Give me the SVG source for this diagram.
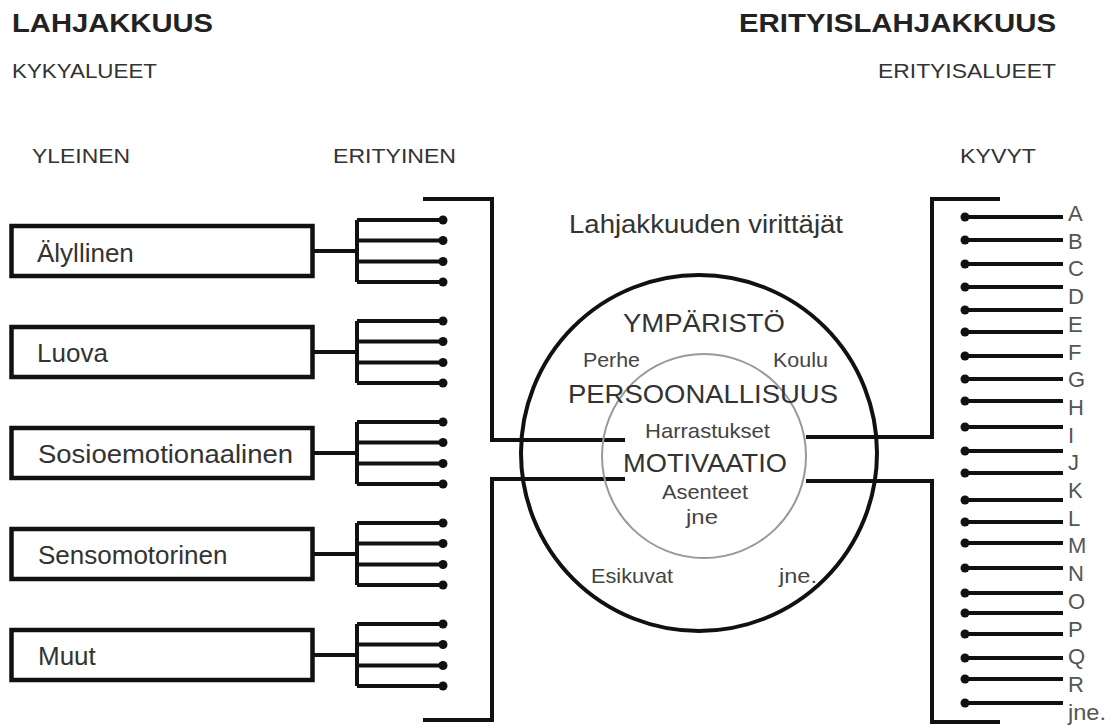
<svg xmlns="http://www.w3.org/2000/svg" width="1110" height="725" viewBox="0 0 1110 725">
<style>
text{font-family:"Liberation Sans",Arial,sans-serif;}
.h1{font-size:26px;font-weight:bold;fill:#222;}
.h2{font-size:21px;fill:#333;}
.h3{font-size:21px;fill:#333;}
.box{fill:#fff;stroke:#111;stroke-width:4.5;}
.lbl{font-size:26px;fill:#333;}
.ln{stroke:#111;stroke-width:4;fill:none;}
.dot{fill:#111;}
.big{font-size:26px;fill:#333;}
.sm{font-size:21px;fill:#444;}
.let{font-size:22px;fill:#555;}
</style>
<rect width="1110" height="725" fill="#fff"/>
<g id="headers">
<text class="h1" x="12" y="32" textLength="201" lengthAdjust="spacingAndGlyphs">LAHJAKKUUS</text>
<text class="h1" x="1056" y="32" text-anchor="end" textLength="317" lengthAdjust="spacingAndGlyphs">ERITYISLAHJAKKUUS</text>
<text class="h2" x="12" y="78" textLength="145" lengthAdjust="spacingAndGlyphs">KYKYALUEET</text>
<text class="h2" x="1056" y="78" text-anchor="end" textLength="178" lengthAdjust="spacingAndGlyphs">ERITYISALUEET</text>
<text class="h3" x="32" y="163" textLength="98" lengthAdjust="spacingAndGlyphs">YLEINEN</text>
<text class="h3" x="333" y="163" textLength="123" lengthAdjust="spacingAndGlyphs">ERITYINEN</text>
<text class="h3" x="960" y="163" textLength="76" lengthAdjust="spacingAndGlyphs">KYVYT</text>
</g>
<g id="node-alyllinen"><rect class="box" x="11.5" y="226" width="301" height="50"/><text class="lbl" x="37" y="262">Älyllinen</text></g>
<g id="node-luova"><rect class="box" x="11.5" y="327" width="301" height="50"/><text class="lbl" x="37" y="362">Luova</text></g>
<g id="node-sosio"><rect class="box" x="11.5" y="428" width="301" height="50"/><text class="lbl" x="38" y="463" textLength="255" lengthAdjust="spacingAndGlyphs">Sosioemotionaalinen</text></g>
<g id="node-senso"><rect class="box" x="11.5" y="529" width="301" height="50"/><text class="lbl" x="38" y="564">Sensomotorinen</text></g>
<g id="node-muut"><rect class="box" x="11.5" y="630" width="301" height="50"/><text class="lbl" x="38" y="665">Muut</text></g>
<g id="connectors">
<path class="ln" d="M313 251H357M357 220V282M357 220H443M357 240.5H443M357 261.5H443M357 282H443"/>
<path class="ln" d="M313 352H357M357 321V383M357 321H443M357 341.5H443M357 362.5H443M357 383H443"/>
<path class="ln" d="M313 453H357M357 422V484M357 422H443M357 442.5H443M357 463.5H443M357 484H443"/>
<path class="ln" d="M313 554H357M357 523V585M357 523H443M357 543.5H443M357 564.5H443M357 585H443"/>
<path class="ln" d="M313 655H357M357 624V686M357 624H443M357 644.5H443M357 665.5H443M357 686H443"/>
<g class="dot">
<circle cx="443" cy="220" r="4.5"/><circle cx="443" cy="240.5" r="4.5"/><circle cx="443" cy="261.5" r="4.5"/><circle cx="443" cy="282" r="4.5"/>
<circle cx="443" cy="321" r="4.5"/><circle cx="443" cy="341.5" r="4.5"/><circle cx="443" cy="362.5" r="4.5"/><circle cx="443" cy="383" r="4.5"/>
<circle cx="443" cy="422" r="4.5"/><circle cx="443" cy="442.5" r="4.5"/><circle cx="443" cy="463.5" r="4.5"/><circle cx="443" cy="484" r="4.5"/>
<circle cx="443" cy="523" r="4.5"/><circle cx="443" cy="543.5" r="4.5"/><circle cx="443" cy="564.5" r="4.5"/><circle cx="443" cy="585" r="4.5"/>
<circle cx="443" cy="624" r="4.5"/><circle cx="443" cy="644.5" r="4.5"/><circle cx="443" cy="665.5" r="4.5"/><circle cx="443" cy="686" r="4.5"/>
</g>
<path class="ln" d="M423 199H492V440H625M625 479H492V720H423"/>
<path class="ln" d="M1000 199H932V437H806M806 481H932V722H1000"/>
<path class="ln" stroke-width="4.5" d="M965 217H1063M965 240H1063M965 264H1063M965 287H1063M965 310H1063M965 332H1063M965 356H1063M965 379H1063M965 401H1063M965 427H1063M965 451H1063M965 473H1063M965 500H1063M965 522H1063M965 543H1063M965 568H1063M965 593H1063M965 613H1063M965 634H1063M965 658H1063M965 679H1063M965 703H1063"/>
<g class="dot">
<circle cx="965" cy="217" r="4.5"/><circle cx="965" cy="240" r="4.5"/><circle cx="965" cy="264" r="4.5"/><circle cx="965" cy="287" r="4.5"/><circle cx="965" cy="310" r="4.5"/><circle cx="965" cy="332" r="4.5"/><circle cx="965" cy="356" r="4.5"/><circle cx="965" cy="379" r="4.5"/><circle cx="965" cy="401" r="4.5"/><circle cx="965" cy="427" r="4.5"/><circle cx="965" cy="451" r="4.5"/><circle cx="965" cy="473" r="4.5"/><circle cx="965" cy="500" r="4.5"/><circle cx="965" cy="522" r="4.5"/><circle cx="965" cy="543" r="4.5"/><circle cx="965" cy="568" r="4.5"/><circle cx="965" cy="593" r="4.5"/><circle cx="965" cy="613" r="4.5"/><circle cx="965" cy="634" r="4.5"/><circle cx="965" cy="658" r="4.5"/><circle cx="965" cy="679" r="4.5"/><circle cx="965" cy="703" r="4.5"/>
</g>
</g>
<g id="node-virittajat">
<circle cx="699" cy="453" r="178" fill="none" stroke="#111" stroke-width="4"/>
<circle cx="704" cy="456" r="102" fill="none" stroke="#999" stroke-width="2"/>
<text class="big" x="569" y="233" textLength="274" lengthAdjust="spacingAndGlyphs">Lahjakkuuden virittäjät</text>
<text class="big" x="623" y="332" textLength="162" lengthAdjust="spacingAndGlyphs">YMPÄRISTÖ</text>
<text class="sm" x="583" y="367" textLength="57" lengthAdjust="spacingAndGlyphs">Perhe</text>
<text class="sm" x="773" y="367" textLength="55" lengthAdjust="spacingAndGlyphs">Koulu</text>
<text class="big" x="568" y="403" textLength="270" lengthAdjust="spacingAndGlyphs">PERSOONALLISUUS</text>
<text class="sm" x="645" y="438" textLength="125" lengthAdjust="spacingAndGlyphs">Harrastukset</text>
<text class="big" x="623" y="472" textLength="164" lengthAdjust="spacingAndGlyphs">MOTIVAATIO</text>
<text class="sm" x="662" y="499" textLength="86" lengthAdjust="spacingAndGlyphs">Asenteet</text>
<text class="sm" x="686" y="524" textLength="32" lengthAdjust="spacingAndGlyphs">jne</text>
<text class="sm" x="591" y="583" textLength="82" lengthAdjust="spacingAndGlyphs">Esikuvat</text>
<text class="sm" x="779" y="583" textLength="38" lengthAdjust="spacingAndGlyphs">jne.</text>
</g>
<g id="kyvyt-labels">
<text class="let" x="1068" y="221">A</text>
<text class="let" x="1068" y="248.7">B</text>
<text class="let" x="1068" y="276.4">C</text>
<text class="let" x="1068" y="304.1">D</text>
<text class="let" x="1068" y="331.8">E</text>
<text class="let" x="1068" y="359.5">F</text>
<text class="let" x="1068" y="387.2">G</text>
<text class="let" x="1068" y="414.9">H</text>
<text class="let" x="1068" y="442.6">I</text>
<text class="let" x="1068" y="470.3">J</text>
<text class="let" x="1068" y="498">K</text>
<text class="let" x="1068" y="525.7">L</text>
<text class="let" x="1068" y="553.4">M</text>
<text class="let" x="1068" y="581.1">N</text>
<text class="let" x="1068" y="608.8">O</text>
<text class="let" x="1068" y="636.5">P</text>
<text class="let" x="1068" y="664.2">Q</text>
<text class="let" x="1068" y="691.9">R</text>
<text class="let" x="1068" y="719.6" textLength="38" lengthAdjust="spacingAndGlyphs">jne.</text>
</g>
</svg>
